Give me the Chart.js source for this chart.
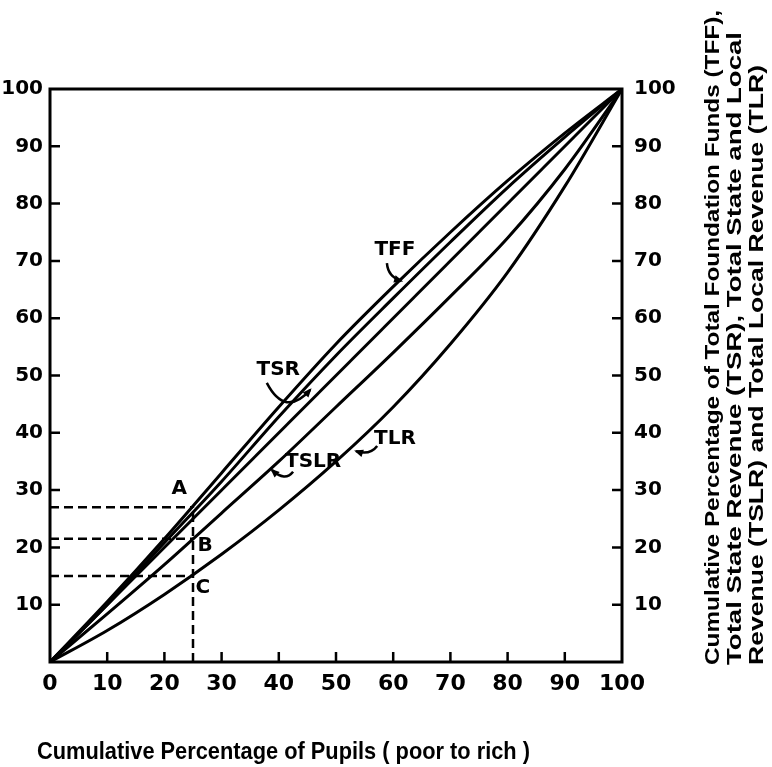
<!DOCTYPE html>
<html>
<head>
<meta charset="utf-8">
<script src="https://cdn.jsdelivr.net/npm/chart.js@4.4.1/dist/chart.umd.min.js"></script>
<style>
  html, body { margin: 0; padding: 0; background: #fff; }
  #wrap { width: 772px; height: 767px; }
</style>
</head>
<body>
<div id="wrap"><canvas id="lorenz" width="772" height="767"></canvas></div>
<script>
// cumulative % of pupils (poor to rich) and the four concentration curves
const pupilPct = [0, 10, 20, 30, 40, 50, 60, 70, 80, 90, 100];
const tffPct   = [0, 10.5, 21.5, 33, 44.5, 55.5, 65.5, 75, 84, 92.3, 100];
const tsrPct   = [0, 10, 20.8, 31.5, 42.8, 53.5, 63.5, 73.3, 82.8, 91.6, 100];
const tslrPct  = [0, 8.4, 17, 26, 35, 44.5, 54, 63.8, 74, 86, 100];
const tlrPct   = [0, 5.5, 11.8, 18.8, 26.5, 35, 44.5, 55.5, 68, 83, 100];
const equalityPct = [0, 100];

// dashed read-off at 25% of pupils: A, B, C
const markPupils = 25;
const markLevels = [27, 21.5, 15];
const markNames = ['A', 'B', 'C'];

const tickValues = [0, 10, 20, 30, 40, 50, 60, 70, 80, 90, 100];
const innerTicks = [10, 20, 30, 40, 50, 60, 70, 80, 90];

const xTitle = 'Cumulative Percentage of Pupils ( poor to rich )';
const yTitleLines = [
    'Cumulative Percentage of Total Foundation Funds (TFF),',
    'Total State Revenue (TSR), Total State and Local',
    'Revenue (TSLR) and Total Local Revenue (TLR)'
];

const toPoints = (xs, ys) => xs.map((x, i) => ({ x: x, y: ys[i] }));

const curve = (label, ys) => ({
    label: label,
    data: toPoints(pupilPct, ys),
    borderColor: '#000',
    borderWidth: 3,
    showLine: true,
    cubicInterpolationMode: 'monotone',
    pointRadius: 0
});

const dashed = (pts) => ({
    data: pts,
    borderColor: '#000',
    borderWidth: 2.5,
    borderDash: [9, 5],
    showLine: true,
    pointRadius: 0
});

const datasets = [
    curve('TFF', tffPct),
    curve('TSR', tsrPct),
    { label: 'Equality', data: toPoints(equalityPct, equalityPct), borderColor: '#000', borderWidth: 3, showLine: true, pointRadius: 0 },
    curve('TSLR', tslrPct),
    curve('TLR', tlrPct),
    dashed([{ x: markPupils, y: 0 }, { x: markPupils, y: markLevels[0] }])
];
markLevels.forEach(v => datasets.push(dashed([{ x: 0, y: v }, { x: markPupils, y: v }])));

// curve labels with their little curved arrows (data coordinates)
const notes = [
    { text: 'TFF',  at: [60.3, 72.0], arrow: [[58.9, 69.6], [59.1, 67.2], [61.4, 66.5]] },
    { text: 'TSR',  at: [39.9, 51.0], arrow: [[37.9, 48.7], [41.1, 42.6], [45.5, 47.5]] },
    { text: 'TSLR', at: [46.0, 34.9], arrow: [[42.5, 33.2], [41.1, 31.4], [38.8, 33.5]] },
    { text: 'TLR',  at: [60.3, 38.9], arrow: [[57.2, 37.7], [55.9, 36.0], [53.5, 36.8]] }
];
const pointLabelPos = [[22.6, 30.2], [27.1, 20.3], [26.7, 12.9]];

const digitFont = { family: '"DejaVu Sans"', size: 20, weight: 'bold' };

// draw text stretched or squeezed to a given length
function fitText(ctx, text, x, y, len) {
    const w = ctx.measureText(text).width;
    ctx.save();
    ctx.translate(x, y);
    ctx.scale(len / w, 1);
    ctx.fillText(text, 0, 0);
    ctx.restore();
}

const decorations = {
    id: 'decorations',
    afterDraw(chart) {
        const { ctx, chartArea: a, scales } = chart;
        const X = v => scales.x.getPixelForValue(v);
        const Y = v => scales.y.getPixelForValue(v);
        ctx.save();
        ctx.strokeStyle = '#000';
        ctx.fillStyle = '#000';

        // frame
        ctx.lineWidth = 3;
        ctx.strokeRect(a.left, a.top, a.right - a.left, a.bottom - a.top);

        // inward ticks
        ctx.lineWidth = 2.5;
        ctx.beginPath();
        innerTicks.forEach(v => {
            ctx.moveTo(a.left, Y(v)); ctx.lineTo(a.left + 10, Y(v));
            ctx.moveTo(a.right, Y(v)); ctx.lineTo(a.right - 10, Y(v));
            ctx.moveTo(X(v), a.bottom); ctx.lineTo(X(v), a.bottom - 10);
        });
        ctx.stroke();

        // curve labels + arrows
        ctx.font = 'bold 20px "DejaVu Sans"';
        ctx.textAlign = 'center';
        ctx.textBaseline = 'middle';
        notes.forEach(n => {
            ctx.fillText(n.text, X(n.at[0]), Y(n.at[1]));
            const [s, c, e] = n.arrow.map(p => [X(p[0]), Y(p[1])]);
            ctx.lineWidth = 2.5;
            ctx.beginPath();
            ctx.moveTo(s[0], s[1]);
            ctx.quadraticCurveTo(c[0], c[1], e[0], e[1]);
            ctx.stroke();
            const ang = Math.atan2(e[1] - c[1], e[0] - c[0]);
            ctx.beginPath();
            ctx.moveTo(e[0] + 2 * Math.cos(ang), e[1] + 2 * Math.sin(ang));
            ctx.lineTo(e[0] - 8 * Math.cos(ang - 0.5), e[1] - 8 * Math.sin(ang - 0.5));
            ctx.lineTo(e[0] - 8 * Math.cos(ang + 0.5), e[1] - 8 * Math.sin(ang + 0.5));
            ctx.closePath();
            ctx.fill();
        });

        // A, B, C
        markNames.forEach((t, i) => {
            ctx.fillText(t, X(pointLabelPos[i][0]), Y(pointLabelPos[i][1]));
        });

        // x title
        ctx.font = 'bold 24px "Liberation Sans"';
        ctx.textAlign = 'left';
        ctx.textBaseline = 'alphabetic';
        fitText(ctx, xTitle, 37, 759, 493);

        // right-hand title, read bottom to top
        const lineX = [719, 741, 763];
        const lineLen = [655, 633, 600];
        ctx.font = 'bold 21px "Liberation Sans"';
        ctx.textBaseline = 'alphabetic';
        yTitleLines.forEach((t, i) => {
            ctx.save();
            ctx.translate(lineX[i], 665);
            ctx.rotate(-Math.PI / 2);
            fitText(ctx, t, 0, 0, lineLen[i]);
            ctx.restore();
        });
        ctx.restore();
    }
};

const fixedTicks = s => { s.ticks = tickValues.map(v => ({ value: v })); };

new Chart(document.getElementById('lorenz').getContext('2d'), {
    type: 'scatter',
    data: { datasets: datasets },
    options: {
        responsive: false,
        animation: false,
        devicePixelRatio: 1,
        layout: { padding: { top: 89, left: 0, right: 0, bottom: 0 } },
        plugins: { legend: { display: false }, tooltip: { enabled: false } },
        scales: {
            x: {
                type: 'linear', min: 0, max: 100,
                afterBuildTicks: fixedTicks,
                grid: { display: false, drawTicks: false },
                border: { display: false },
                ticks: { color: '#000', font: { family: '"DejaVu Sans"', size: 22, weight: 'bold' }, padding: 9, maxRotation: 0 },
                afterFit: s => { s.height = 105; }
            },
            y: {
                type: 'linear', position: 'left', min: 0, max: 100,
                afterBuildTicks: fixedTicks,
                grid: { display: false, drawTicks: false },
                border: { display: false },
                ticks: { color: '#000', font: digitFont, padding: 7, callback: v => v === 0 ? '' : v },
                afterFit: s => { s.width = 50; }
            },
            y2: {
                type: 'linear', position: 'right', min: 0, max: 100,
                afterBuildTicks: fixedTicks,
                grid: { display: false, drawTicks: false },
                border: { display: false },
                ticks: { color: '#000', font: digitFont, padding: 12, callback: v => v === 0 ? '' : v },
                afterFit: s => { s.width = 150; }
            }
        }
    },
    plugins: [decorations]
});
</script>
</body>
</html>
